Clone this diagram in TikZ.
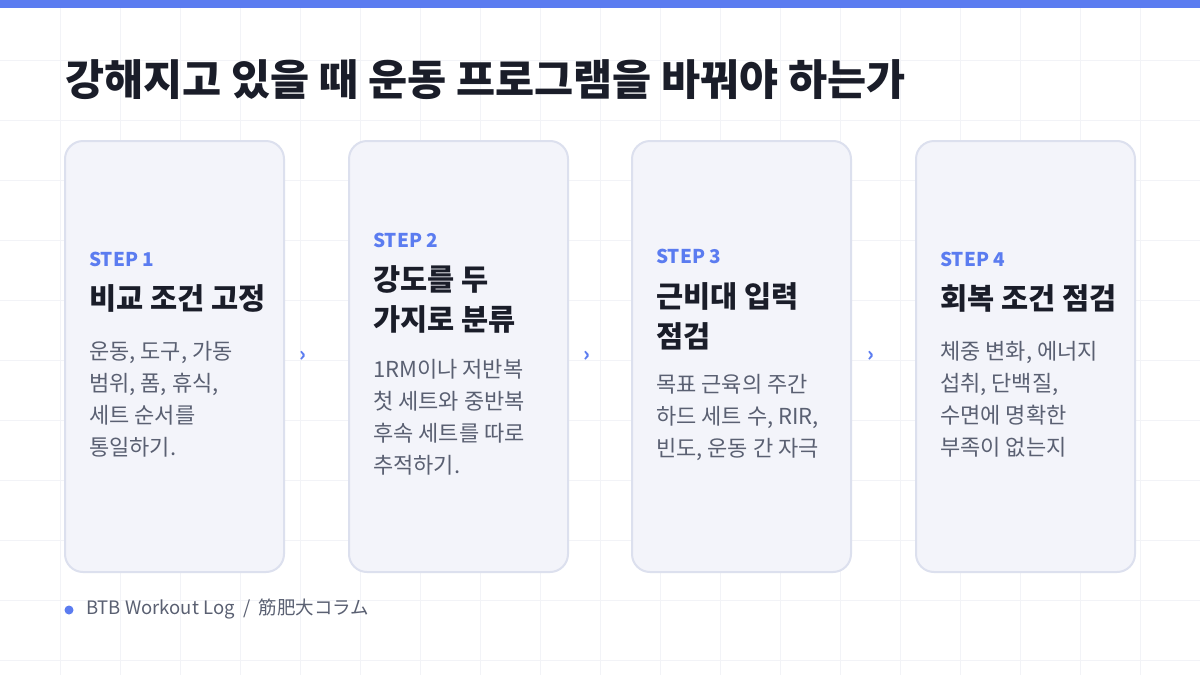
\documentclass[tikz,border=0pt]{standalone}
\usepackage{fontspec}
\setmainfont{Noto Sans CJK KR}
\usetikzlibrary{positioning}
\definecolor{accent}{HTML}{5B7CF0}
\definecolor{ink}{HTML}{1A1D29}
\definecolor{muted}{HTML}{5A6072}
\definecolor{cardfill}{HTML}{F3F4FA}
\definecolor{cardline}{HTML}{DCE0EE}
\definecolor{gridline}{HTML}{F2F3F7}
\tikzset{
  card/.style = {draw=cardline, fill=cardfill, line width=2pt, rounded corners=18pt},
  steplbl/.style = {anchor=west, inner sep=0pt, text=accent, font=\fontsize{19}{19}\selectfont\bfseries},
  cardttl/.style = {anchor=north west, inner sep=0pt, text=ink, align=left,
    font=\fontsize{29.5}{40}\selectfont\bfseries},
  cardbody/.style = {anchor=north west, inner sep=0pt, text=muted, align=left,
    font=\fontsize{22}{32}\selectfont},
  nextmark/.style = {text=accent, inner sep=0pt, font=\fontsize{20}{20}\selectfont\bfseries},
}
\begin{document}
\begin{tikzpicture}[x=1pt,y=-1pt]
  \useasboundingbox (0,0) rectangle (1200,675);
  \fill[white] (0,0) rectangle (1200,675);
  % faint grid
  \foreach \gx in {60,120,...,1140} \draw[gridline,line width=1pt] (\gx,8) -- (\gx,675);
  \foreach \gy in {60,120,...,660} \draw[gridline,line width=1pt] (0,\gy) -- (1200,\gy);
  \fill[accent] (0,0) rectangle (1200,8);

  \node[anchor=west, inner sep=0pt, text=ink, font=\fontsize{42.5}{42.5}\selectfont\bfseries]
    (title) at (65,80) {강해지고 있을 때 운동 프로그램을 바꿔야 하는가};

  % cards
  \foreach \cx/\cn in {65/c1, 349/c2, 632/c3, 916/c4}
    \draw[card] (\cx,141) rectangle ++(219,431) coordinate (\cn);

  % step 1
  \node[steplbl] (s1) at (89,259) {STEP 1};
  \node[cardttl] (t1) at (89,284) {비교 조건 고정};
  \node[cardbody] (b1) at (89,341) {운동, 도구, 가동\\범위, 폼, 휴식,\\세트 순서를\\통일하기.};
  % step 2
  \node[steplbl] (s2) at (373,240) {STEP 2};
  \node[cardttl] (t2) at (373,265) {강도를 두\\가지로 분류};
  \node[cardbody] (b2) at (373,359) {1RM이나 저반복\\첫 세트와 중반복\\후속 세트를 따로\\추적하기.};
  % step 3
  \node[steplbl] (s3) at (656,256) {STEP 3};
  \node[cardttl] (t3) at (656,282) {근비대 입력\\점검};
  \node[cardbody] (b3) at (656,374) {목표 근육의 주간\\하드 세트 수, RIR,\\빈도, 운동 간 자극};
  % step 4
  \node[steplbl] (s4) at (940,259) {STEP 4};
  \node[cardttl] (t4) at (940,284) {회복 조건 점검};
  \node[cardbody] (b4) at (940,341) {체중 변화, 에너지\\섭취, 단백질,\\수면에 명확한\\부족이 없는지};

  % arrows between cards
  \node[nextmark] (n1) at (303,356) {›};
  \node[nextmark] (n2) at (587,356) {›};
  \node[nextmark] (n3) at (871,356) {›};

  % footer
  \fill[accent] (69,610) circle (4.5pt);
  \node[anchor=west, inner sep=0pt, text=muted, font=\fontsize{18.5}{18.5}\selectfont]
    (foot) at (86,609) {BTB Workout Log\ \ /\ \ 筋肥大コラム};
\end{tikzpicture}
\end{document}
